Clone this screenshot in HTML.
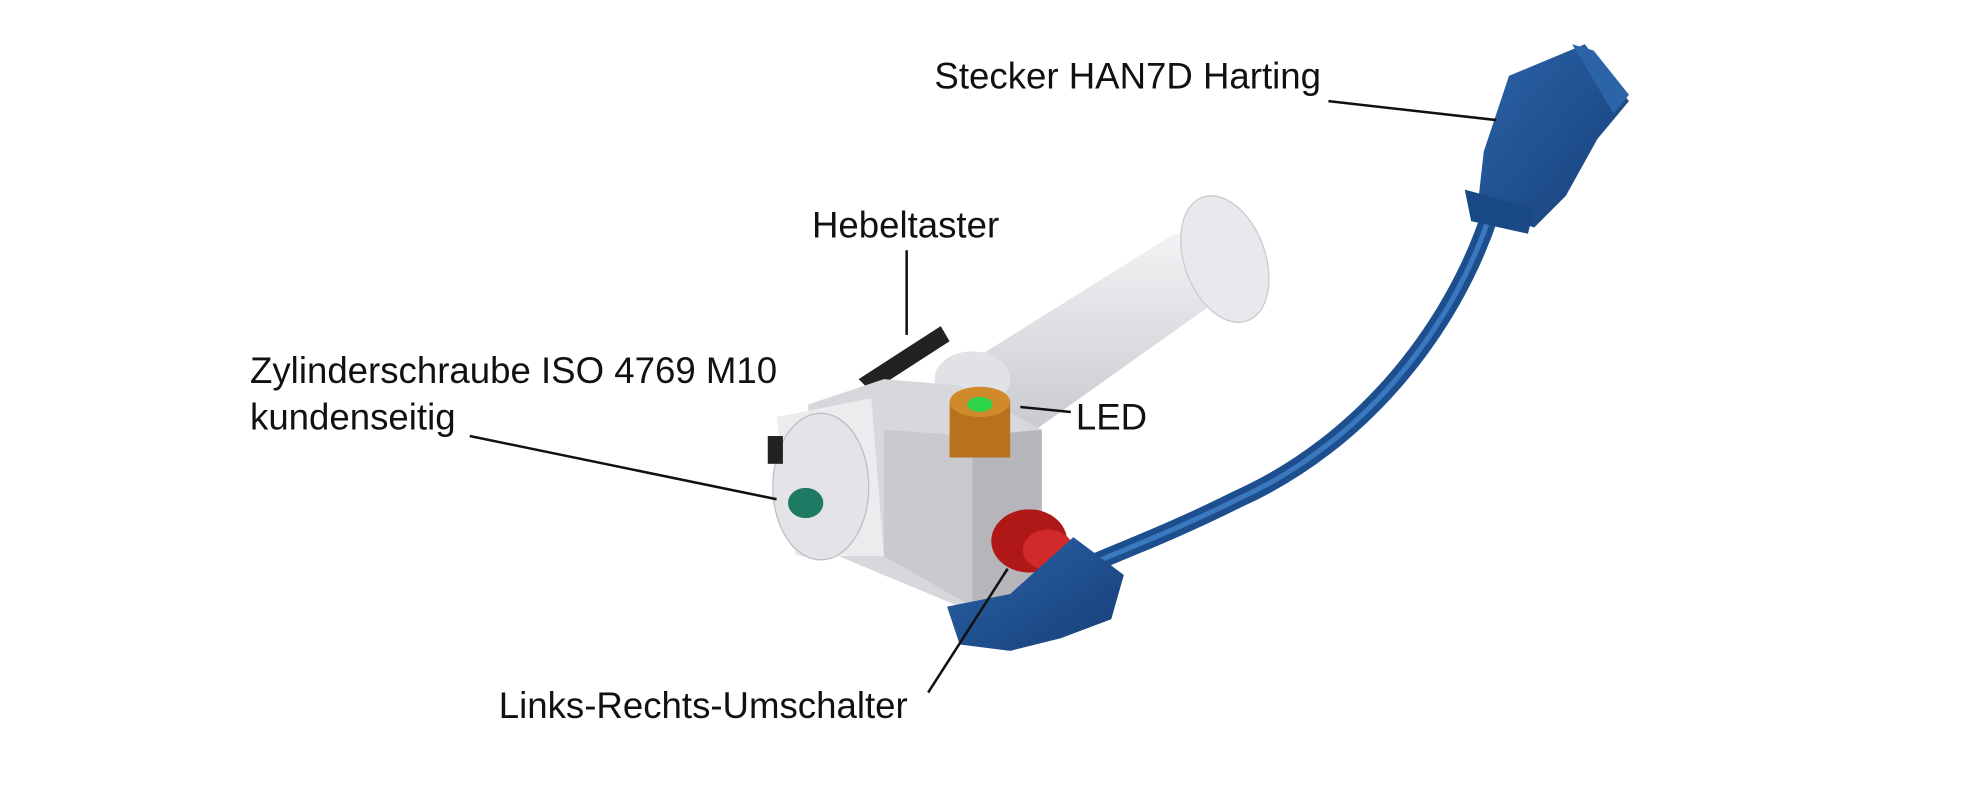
<!DOCTYPE html>
<html><head><meta charset="utf-8"><style>
html,body{margin:0;padding:0;background:#fff;}
svg{display:block;}
text{font-family:"Liberation Sans",sans-serif;font-size:29px;fill:#111;}
</style></head><body>
<svg width="1980" height="800" viewBox="0 0 1568 633" preserveAspectRatio="none" xmlns="http://www.w3.org/2000/svg">
<defs>
<linearGradient id="grip" x1="0" y1="0" x2="0" y2="1"><stop offset="0" stop-color="#f4f4f6"/><stop offset="1" stop-color="#c9cad0"/></linearGradient>
<linearGradient id="cab" x1="0" y1="0" x2="1" y2="1"><stop offset="0" stop-color="#2a63a8"/><stop offset="1" stop-color="#173f78"/></linearGradient>
</defs>
<!-- cable -->
<path d="M1180 170 C1150 260 1080 350 980 395 C930 420 890 435 855 450" fill="none" stroke="#1d4f8f" stroke-width="14"/>
<path d="M1180 170 C1150 260 1080 350 980 395 C930 420 890 435 855 450" fill="none" stroke="#3a78c0" stroke-width="4"/>
<!-- connector -->
<path d="M1195 60 L1255 35 L1290 80 L1265 110 L1240 155 L1215 180 L1170 165 L1175 120 Z" fill="url(#cab)"/>
<path d="M1160 150 L1215 165 L1210 185 L1165 175 Z" fill="#1a4a86"/>
<path d="M1245 35 L1262 40 L1290 75 L1278 90 Z" fill="#2c64a8"/>
<!-- grip -->
<path d="M770 285 L930 185 L955 180 L975 230 L820 340 L775 330 Z" fill="url(#grip)"/>
<ellipse cx="970" cy="205" rx="32" ry="52" transform="rotate(-20 970 205)" fill="#e8e9ec" stroke="#c8c9ce"/>
<ellipse cx="770" cy="300" rx="30" ry="22" fill="#e1e2e6"/>
<!-- lever -->
<path d="M680 300 L745 258 L752 270 L690 310 Z" fill="#222"/>
<!-- body -->
<path d="M640 320 L700 300 L760 305 L825 340 L825 470 L760 480 L640 430 Z" fill="#d8d8dc"/>
<path d="M700 340 L770 345 L770 480 L700 440 Z" fill="#c9c9ce"/>
<path d="M770 345 L825 340 L825 470 L770 480 Z" fill="#b5b5ba"/>
<path d="M615 330 L690 315 L700 440 L630 440 Z" fill="#ececef"/>
<ellipse cx="650" cy="385" rx="38" ry="58" fill="#e4e4e8" stroke="#bdbdc2"/>
<rect x="608" y="345" width="12" height="22" fill="#222"/>
<!-- screw -->
<ellipse cx="638" cy="398" rx="14" ry="12" fill="#1f7a64"/>
<!-- LED -->
<path d="M752 318 L800 318 L800 362 L752 362 Z" fill="#b8721e"/>
<ellipse cx="776" cy="318" rx="24" ry="12" fill="#d08a2c"/>
<ellipse cx="776" cy="320" rx="10" ry="6" fill="#2fd34a"/>
<!-- red knob -->
<ellipse cx="815" cy="428" rx="30" ry="25" fill="#b01818"/>
<ellipse cx="830" cy="435" rx="20" ry="16" fill="#d02a2a"/>
<!-- blue elbow -->
<path d="M850 425 L890 455 L880 490 L840 505 L800 515 L760 510 L750 480 L800 470 Z" fill="url(#cab)"/>
<!-- leader lines -->
<g stroke="#111" stroke-width="2" fill="none">
<line x1="1052" y1="80" x2="1185" y2="95"/>
<line x1="718" y1="198" x2="718" y2="265"/>
<line x1="372" y1="345" x2="615" y2="395"/>
<line x1="808" y1="322" x2="848" y2="326"/>
<line x1="735" y1="548" x2="798" y2="450"/>
</g>
<text x="740" y="70">Stecker HAN7D Harting</text>
<text x="643" y="188">Hebeltaster</text>
<text x="198" y="303">Zylinderschraube ISO 4769 M10</text>
<text x="198" y="340">kundenseitig</text>
<text x="852" y="340">LED</text>
<text x="395" y="568">Links-Rechts-Umschalter</text>
</svg>
</body></html>
